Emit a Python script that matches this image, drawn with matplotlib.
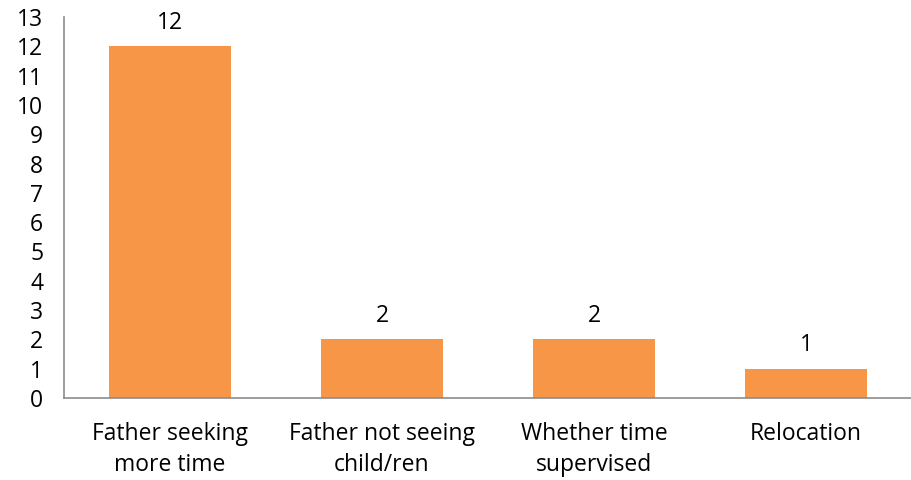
import matplotlib.pyplot as plt

categories = ['Father seeking\nmore time', 'Father not seeing\nchild/ren', 'Whether time\nsupervised', 'Relocation']
counts = [12, 2, 2, 1]

plt.rcParams['font.family'] = ['Open Sans', 'DejaVu Sans']

fig = plt.figure(figsize=(9.12, 4.8), dpi=100)
ax = fig.add_axes([0.0702, 0.1708, 0.9298, 0.7938])

x = range(len(categories))
bars = ax.bar(x, counts, width=0.58, color='#F79646')
for b, v in zip(bars, counts):
    ax.text(b.get_x() + b.get_width() / 2, v + 0.4, str(v), ha='center', va='bottom', fontsize=16.5)

ax.set_xlim(-0.5, len(categories) - 0.5)
ax.set_ylim(0, 13)
ax.set_yticks(range(0, 14))
ax.set_xticks(list(x))
ax.set_xticklabels(categories, fontsize=16.5, linespacing=1.4)
ax.tick_params(axis='y', length=0, labelsize=16.5, pad=15)
ax.tick_params(axis='x', length=0, pad=17)

for side in ['top', 'right']:
    ax.spines[side].set_visible(False)
for side in ['left', 'bottom']:
    ax.spines[side].set_color('#8c8c8c')
    ax.spines[side].set_linewidth(1.2)

fig.savefig('out.png', dpi=100)
